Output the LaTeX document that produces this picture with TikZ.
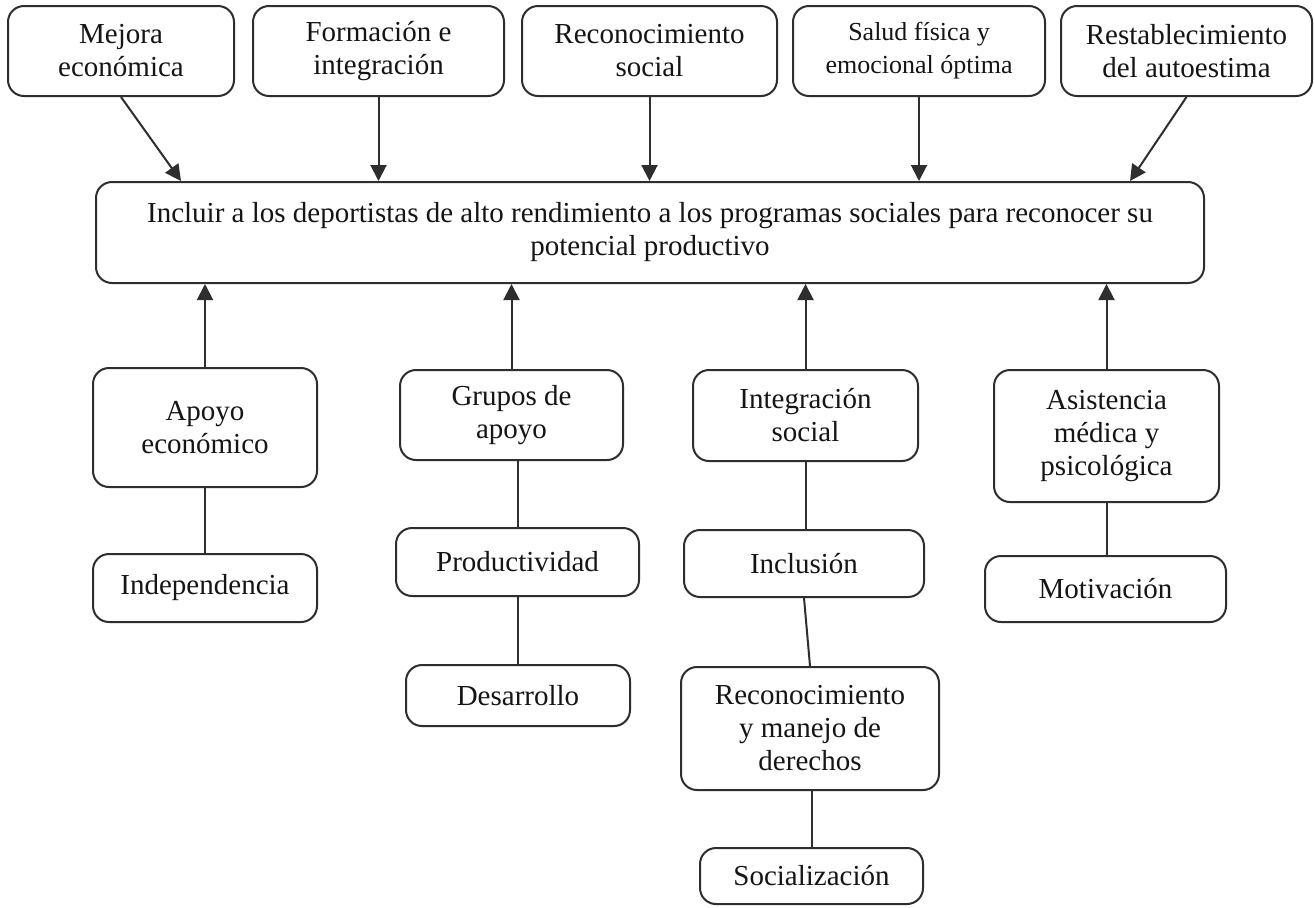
\documentclass[tikz,border=0pt]{standalone}
\usepackage{fontspec}
\setmainfont{Liberation Serif}
\usetikzlibrary{arrows.meta}
\definecolor{ink}{HTML}{2E2E2E}
\definecolor{txt}{HTML}{151515}
\begin{document}
\begin{tikzpicture}[x=0.5pt,y=-0.5pt,
  box/.style={draw=ink, line width=1pt, rounded corners=8pt, align=center,
    inner sep=0pt, text=txt, font=\fontsize{14.5}{16.5}\selectfont},
  link/.style={draw=ink, line width=1pt},
  arr/.style={link, -{Triangle[length=8pt,width=8pt]}}]
\useasboundingbox (0,0) rectangle (1315,907);
\fill[white] (0,0) rectangle (1315,907);

% top row: outcomes
\node[box, minimum width=113pt, minimum height=45pt] (mejora) at (121,51) {Mejora\\económica};
\node[box, minimum width=125.5pt, minimum height=45pt] (formacion) at (378.5,51) {Formación e\\integración};
\node[box, minimum width=127.5pt, minimum height=45pt] (reconoc) at (649.5,51) {Reconocimiento\\social};
\node[box, minimum width=126pt, minimum height=45pt, font=\fontsize{13}{16.5}\selectfont] (salud) at (919,51) {Salud física y\\emocional óptima};
\node[box, minimum width=125.5pt, minimum height=45pt] (restab) at (1186.5,51) {Restablecimiento\\del autoestima};

% central objective
\node[box, minimum width=554pt, minimum height=50.5pt, font=\fontsize{14.5}{16.5}\selectfont] (main) at (650,232.5)
  {Incluir a los deportistas de alto rendimiento a los programas sociales para reconocer su\\potencial productivo};

% lower columns
\node[box, minimum width=112pt, minimum height=59.5pt] (apoyo) at (205,427.5) {Apoyo\\económico};
\node[box, minimum width=112pt, minimum height=34pt] (indep) at (205,588) {Independencia};

\node[box, minimum width=111.5pt, minimum height=45pt] (grupos) at (511.5,415) {Grupos de\\apoyo};
\node[box, minimum width=121.5pt, minimum height=34pt] (product) at (517.5,562) {Productividad};
\node[box, minimum width=112pt, minimum height=30.5pt] (desarr) at (518,695.5) {Desarrollo};

\node[box, minimum width=112.5pt, minimum height=45.5pt] (integ) at (805.5,415.5) {Integración\\social};
\node[box, minimum width=120pt, minimum height=33.5pt] (inclus) at (804,563.5) {Inclusión};
\node[box, minimum width=129pt, minimum height=61.5pt] (derech) at (810,728.5) {Reconocimiento\\y manejo de\\derechos};
\node[box, minimum width=111.5pt, minimum height=28pt] (socializ) at (811.5,876) {Socialización};

\node[box, minimum width=112.5pt, minimum height=66pt] (asist) at (1106.5,436) {Asistencia\\médica y\\psicológica};
\node[box, minimum width=120.5pt, minimum height=33pt] (motiv) at (1105.5,589) {Motivación};

% arrow ends on the central box
\path (main.north west) ++(86,0) coordinate (t1);
\path (main.north west) ++(1035,0) coordinate (t5);

% arrows from the top row
\draw[arr] (mejora.south) -- (t1);
\draw[arr] (formacion.south) -- (formacion.south |- main.north);
\draw[arr] (reconoc.south) -- (reconoc.south |- main.north);
\draw[arr] (salud.south) -- (salud.south |- main.north);
\draw[arr] (restab.south) -- (t5);

% arrows from the lower columns
\draw[arr] (apoyo.north) -- (apoyo.north |- main.south);
\draw[arr] (grupos.north) -- (grupos.north |- main.south);
\draw[arr] (integ.north) -- (integ.north |- main.south);
\draw[arr] (asist.north) -- (asist.north |- main.south);

% links inside the columns
\draw[link] (indep.north |- apoyo.south) -- (indep.north);
\draw[link] (product.north |- grupos.south) -- (product.north);
\draw[link] (desarr.north |- product.south) -- (desarr.north);
\draw[link] (integ.south) -- (integ.south |- inclus.north);
\draw[link] (inclus.south) -- (derech.north);
\draw[link] (socializ.north |- derech.south) -- (socializ.north);
\draw[link] (asist.south) -- (asist.south |- motiv.north);
\end{tikzpicture}
\end{document}
